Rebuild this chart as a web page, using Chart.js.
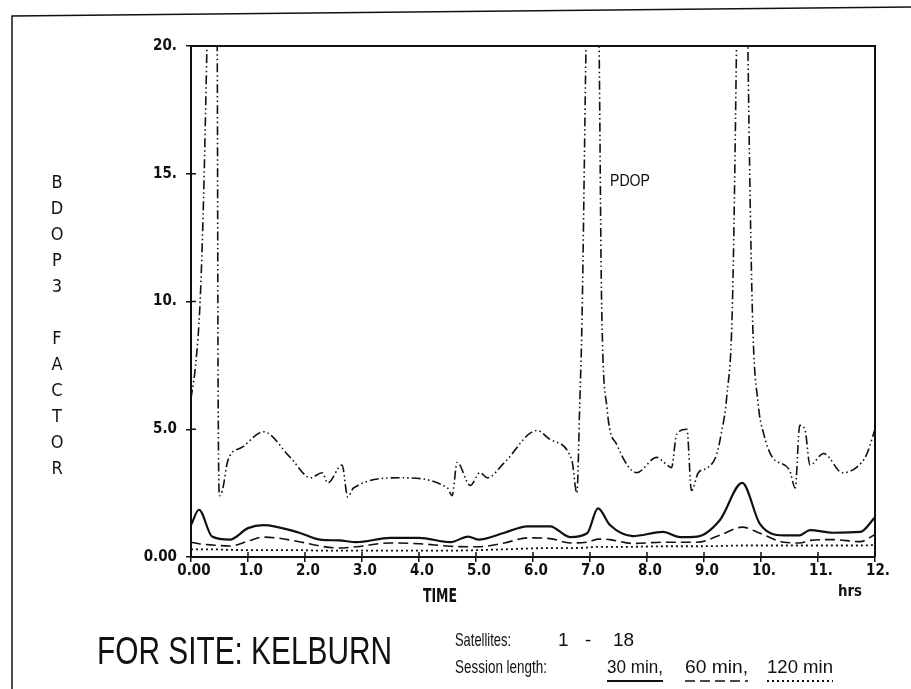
<!DOCTYPE html>
<html>
<head>
<meta charset="utf-8">
<script src="https://cdn.jsdelivr.net/npm/chart.js@4"></script>
<style>
  html, body { margin: 0; padding: 0; background: #fff; }
  #wrap { width: 911px; height: 689px; }
</style>
</head>
<body>
<div id="wrap"><canvas id="bdop-chart" width="911" height="689"></canvas></div>
<script>
// tick labels as printed on the plot
const xTickLabels = ['0.00', '1.0', '2.0', '3.0', '4.0', '5.0', '6.0', '7.0', '8.0', '9.0', '10.', '11.', '12.'];
const yTickLabels = ['0.00', '5.0', '10.', '15.', '20.'];

// PDOP curve (goes off the top of the plot at the three spikes)
const pdopTime = [0, 0.08, 0.16, 0.22, 0.28, 0.37, 0.46, 0.475, 0.5, 0.55, 0.65, 0.9, 1.27, 1.74, 2.1, 2.3, 2.4, 2.65, 2.75, 2.85,
  3.67, 4.5, 4.58, 4.67, 4.9, 5.07, 5.2, 5.5, 6.07, 6.3, 6.68, 6.77, 6.82, 6.86, 6.93, 7.05, 7.16, 7.2, 7.3, 7.47, 7.82,
  8.17, 8.3, 8.43, 8.52, 8.7, 8.78, 8.9, 9.07, 9.22, 9.3, 9.4, 9.5, 9.57, 9.67, 9.77, 9.85, 9.95, 10.05, 10.2, 10.5, 10.6,
  10.68, 10.77, 10.86, 11.1, 11.43, 11.67, 11.85, 12];
const pdopValue = [6.2, 7.5, 10, 14, 20, 30, 20, 7, 2.4, 2.6, 3.8, 4.3, 4.9, 3.9, 3.1, 3.3, 2.9, 3.6, 2.35, 2.7,
  3.1, 2.7, 2.4, 3.7, 2.8, 3.3, 3.1, 3.7, 4.95, 4.6, 3.8, 2.5, 6, 9.3, 20, 35, 20, 10.5, 5.8, 4.4, 3.3,
  3.9, 3.7, 3.5, 4.8, 5.0, 2.6, 3.3, 3.5, 4.0, 4.8, 6.3, 10, 20, 40, 20, 9.5, 6.0, 4.8, 3.9, 3.4, 2.7,
  5.15, 5.0, 3.6, 4.05, 3.3, 3.5, 4.0, 5.0];

// session-length curves share one time grid
const sessionTime = [0, 0.14, 0.37, 0.68, 1.0, 1.27, 1.9, 2.26, 2.6, 2.9, 3.5, 4.0, 4.55, 4.86, 5.04, 5.5, 5.9, 6.3, 6.65, 6.95,
  7.14, 7.35, 7.75, 8.28, 8.58, 8.88, 9.28, 9.67, 9.98, 10.4, 10.68, 10.86, 11.26, 11.74, 12];
const min30 = [1.25, 1.85, 0.8, 0.68, 1.13, 1.25, 0.95, 0.68, 0.65, 0.58, 0.75, 0.75, 0.58, 0.8, 0.68, 0.95, 1.2, 1.2, 0.78, 0.93,
  1.9, 1.25, 0.82, 0.98, 0.78, 0.8, 1.45, 2.9, 1.3, 0.85, 0.85, 1.05, 0.95, 0.98, 1.55];
const min60 = [0.58, 0.52, 0.47, 0.43, 0.62, 0.78, 0.6, 0.43, 0.35, 0.4, 0.55, 0.52, 0.42, 0.4, 0.4, 0.55, 0.75, 0.72, 0.55, 0.58,
  0.7, 0.68, 0.53, 0.58, 0.58, 0.58, 0.85, 1.17, 0.93, 0.58, 0.55, 0.65, 0.68, 0.6, 0.88];
const min120 = [0.3, 0.3, 0.3, 0.28, 0.27, 0.27, 0.27, 0.25, 0.25, 0.25, 0.25, 0.25, 0.25, 0.26, 0.27, 0.3, 0.33, 0.35, 0.35, 0.37,
  0.4, 0.4, 0.4, 0.42, 0.42, 0.42, 0.43, 0.45, 0.45, 0.45, 0.45, 0.45, 0.45, 0.45, 0.47];

const ink = '#111';
const toPoints = (ts, vs) => ts.map((t, i) => ({ x: t, y: vs[i] }));

function line(label, ts, vs, dash, width) {
  return {
    label: label,
    data: toPoints(ts, vs),
    borderColor: ink,
    borderWidth: width,
    borderDash: dash,
    pointRadius: 0,
    fill: false,
    cubicInterpolationMode: 'monotone'
  };
}

// draws text squeezed/stretched to a given width
function fitText(ctx, str, x, y, w, font, align) {
  ctx.save();
  ctx.font = font;
  const m = ctx.measureText(str).width;
  const sx = w / m;
  let x0 = x;
  if (align === 'center') x0 = x - w / 2;
  ctx.translate(x0, y);
  ctx.scale(sx, 1);
  ctx.textAlign = 'left';
  ctx.textBaseline = 'middle';
  ctx.fillText(str, 0, 0);
  ctx.restore();
}

const extras = {
  id: 'extras',
  afterDraw(chart) {
    const ctx = chart.ctx;
    const a = chart.chartArea;
    const xs = chart.scales.x, ys = chart.scales.y;
    ctx.save();
    ctx.strokeStyle = ink;
    ctx.fillStyle = ink;

    // page frame
    ctx.lineWidth = 1.5;
    ctx.beginPath();
    ctx.moveTo(12, 689);
    ctx.lineTo(12, 16);
    ctx.lineTo(911, 7);
    ctx.stroke();

    // top and right sides of the plot box
    ctx.lineWidth = 2;
    ctx.beginPath();
    ctx.moveTo(a.left, a.top);
    ctx.lineTo(a.right, a.top);
    ctx.lineTo(a.right, a.bottom);
    ctx.stroke();

    // inner half of the cross ticks
    ctx.lineWidth = 1.5;
    ctx.beginPath();
    xs.ticks.forEach(t => {
      const px = xs.getPixelForValue(t.value);
      ctx.moveTo(px, a.bottom);
      ctx.lineTo(px, a.bottom - 5);
    });
    ys.ticks.forEach(t => {
      const py = ys.getPixelForValue(t.value);
      ctx.moveTo(a.left, py);
      ctx.lineTo(a.left + 5, py);
    });
    ctx.stroke();

    // vertical axis caption, one letter per line
    ctx.font = '18px "Liberation Sans Narrow", "DejaVu Sans Condensed", sans-serif';
    ctx.textAlign = 'center';
    ctx.textBaseline = 'middle';
    const caption = ['B', 'D', 'O', 'P', '3', '', 'F', 'A', 'C', 'T', 'O', 'R'];
    caption.forEach((c, i) => ctx.fillText(c, 57, 183 + i * 26));

    fitText(ctx, 'PDOP', 610, 181, 40, '17px "Liberation Sans Narrow", sans-serif', 'left');
    fitText(ctx, 'TIME', 440, 597, 34, 'bold 19px "DejaVu Sans Condensed", sans-serif', 'center');
    fitText(ctx, 'hrs', 850, 592, 24, 'bold 16px "DejaVu Sans Condensed", sans-serif', 'center');

    fitText(ctx, 'FOR SITE: KELBURN', 97, 654, 295, '38px "Liberation Sans Narrow", sans-serif', 'left');

    const small = '19px "Liberation Sans Narrow", sans-serif';
    fitText(ctx, 'Satellites:', 455, 641, 56, small, 'left');
    ctx.font = small;
    ctx.textBaseline = 'middle';
    ctx.textAlign = 'left';
    ctx.fillText('1', 558, 641);
    ctx.fillText('-', 585, 641);
    ctx.fillText('18', 613, 641);
    fitText(ctx, 'Session length:', 455, 668, 92, small, 'left');
    fitText(ctx, '30 min,', 607, 668, 56, small, 'left');
    fitText(ctx, '60 min,', 685, 668, 63, small, 'left');
    fitText(ctx, '120 min', 767, 668, 66, small, 'left');

    // sample line styles under each session length
    const samples = [[607, 663, [], 2], [685, 748, [10, 5], 1.6], [767, 833, [2, 3], 1.8]];
    samples.forEach(s => {
      ctx.lineWidth = s[3];
      ctx.setLineDash(s[2]);
      ctx.beginPath();
      ctx.moveTo(s[0], 681);
      ctx.lineTo(s[1], 681);
      ctx.stroke();
    });
    ctx.restore();
  }
};

const tickFont = { family: '"DejaVu Sans Condensed", sans-serif', size: 15, weight: 'bold' };

new Chart(document.getElementById('bdop-chart'), {
  type: 'line',
  data: {
    datasets: [
      line('PDOP', pdopTime, pdopValue, [9, 3, 1.5, 3, 1.5, 3], 1.6),
      line('30 min', sessionTime, min30, [], 2.2),
      line('60 min', sessionTime, min60, [10, 5], 1.6),
      line('120 min', sessionTime, min120, [2, 3], 1.8)
    ]
  },
  options: {
    responsive: false,
    animation: false,
    devicePixelRatio: 1,
    layout: { padding: { left: 111, top: 46, right: 36, bottom: 102 } },
    plugins: { legend: { display: false }, tooltip: { enabled: false } },
    scales: {
      x: {
        type: 'linear',
        min: 0,
        max: 12,
        afterFit: s => { s.height = 30; },
        ticks: {
          stepSize: 1,
          autoSkip: false,
          maxRotation: 0,
          padding: 0,
          labelOffset: 3,
          color: ink,
          font: tickFont,
          callback: v => xTickLabels[v]
        },
        grid: { drawOnChartArea: false, tickLength: 5, color: ink, lineWidth: 1.5 },
        border: { color: ink, width: 2 }
      },
      y: {
        min: 0,
        max: 20,
        afterFit: s => { s.width = 80; },
        ticks: {
          stepSize: 5,
          padding: 9,
          color: ink,
          font: tickFont,
          callback: v => yTickLabels[v / 5]
        },
        grid: { drawOnChartArea: false, tickLength: 5, color: ink, lineWidth: 1.5 },
        border: { color: ink, width: 2 }
      }
    }
  },
  plugins: [extras]
});
</script>
</body>
</html>
